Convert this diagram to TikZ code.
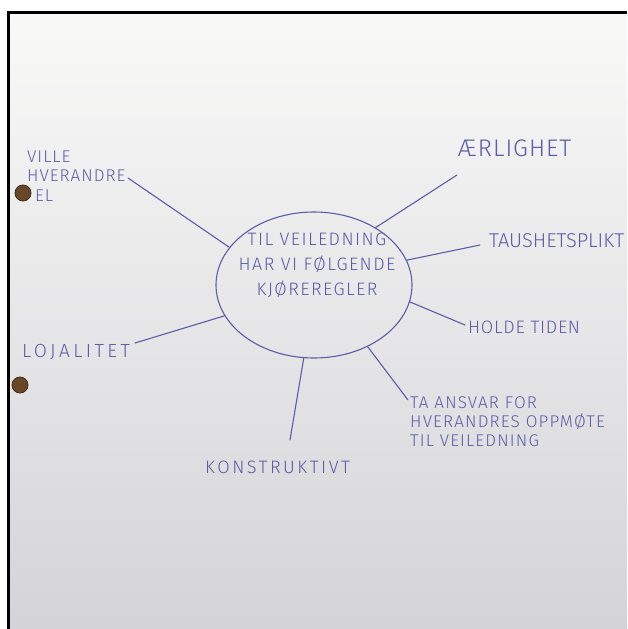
\documentclass[tikz,border=0pt]{standalone}
\usepackage{fontspec}
\setmainfont{Fira Sans}[UprightFont=* Light]
\usetikzlibrary{positioning, shapes.geometric}
\definecolor{ink}{RGB}{92,92,168}
\definecolor{paperhi}{RGB}{249,249,248}
\definecolor{papermid}{RGB}{241,241,241}
\definecolor{paperlo}{RGB}{212,211,215}
\definecolor{hole}{RGB}{104,72,40}

\tikzset{
  spoke/.style={draw=ink, line width=1.1pt, line cap=round},
  lbl/.style n args={3}{text=ink, anchor=west, inner sep=0pt, align=left,
    font=\fontsize{#1}{#2}\selectfont\addfontfeature{LetterSpace=#3}},
  punch/.style={fill=hole, draw=hole!60!black, line width=0.8pt}
}

\begin{document}
\begin{tikzpicture}[x=1pt, y=-1pt]
\useasboundingbox (0,0) rectangle (627,629);
\clip (0,0) rectangle (627,629);

% paper and frame
\fill[white] (0,0) rectangle (627,629);
\shade[top color=paperhi, middle color=papermid, bottom color=paperlo] (8,12) rectangle (627,629);
\draw[line width=3pt] (8,629) -- (8,12) -- (627,12);

% centre
\node[ellipse, draw=ink, line width=1.1pt, minimum width=196pt, minimum height=146pt, inner sep=0pt] (hub) at (314,285) {};
\node[text=ink, align=center, inner sep=0pt, font=\fontsize{18}{25}\selectfont\addfontfeature{LetterSpace=8}] (hubtxt) at (317,265)
  {TIL VEILEDNING\\HAR VI FØLGENDE\\KJØREREGLER};

% labels
\node[lbl={24}{28}{4}] (aerlighet) at (458,148) {ÆRLIGHET};
\node[lbl={20}{24}{0}] (taushet) at (489,241) {TAUSHETSPLIKT};
\node[lbl={18}{22}{4}] (holde) at (468,327) {HOLDE TIDEN};
\node[lbl={17}{19}{7}] (ansvar) at (410,422) {TA ANSVAR FOR\\HVERANDRES OPPMØTE\\TIL VEILEDNING};
\node[lbl={18}{22}{14}] (konstr) at (205,467) {KONSTRUKTIVT};
\node[lbl={19}{22}{18}] (lojal) at (22,352) {LOJALITET};
\node[lbl={17}{19}{6}] (ville) at (27,166) {VILLE\\HVERANDRE};
\node[lbl={17}{19}{6}] (vel) at (35,196) {EL};

% free ends of the spokes
\coordinate (aeEnd) at (457,175);
\coordinate (taEnd) at (480,245);
\coordinate (hoEnd) at (465,325);
\coordinate (anEnd) at (408,400);
\coordinate (koEnd) at (290,440);
\coordinate (loEnd) at (135,343);
\coordinate (viEnd) at (128,178);

\draw[spoke] (hub.43) -- (aeEnd);
\draw[spoke] (hub.15) -- (taEnd);
\draw[spoke] (hub.-10) -- (hoEnd);
\draw[spoke] (hub.-49) -- (anEnd);
\draw[spoke] (hub.-98) -- (koEnd);
\draw[spoke] (hub.199) -- (loEnd);
\draw[spoke] (hub.156) -- (viEnd);

% punch holes
\draw[punch] (23,193) circle (8);
\draw[punch] (20,385) circle (8);
\end{tikzpicture}
\end{document}
